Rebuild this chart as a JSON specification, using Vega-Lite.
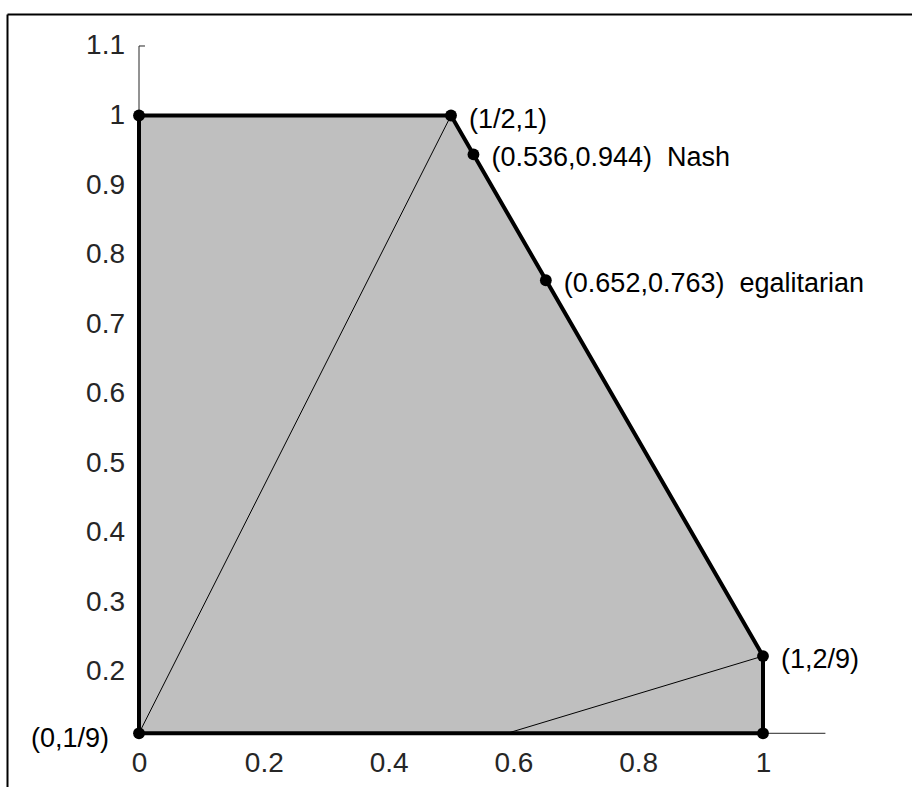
{
  "$schema": "https://vega.github.io/schema/vega-lite/v6.json",
  "width": 905,
  "height": 773,
  "autosize": {"type": "none"},
  "padding": {"left": 7, "top": 14, "right": 0, "bottom": 0},
  "background": "white",
  "config": {"view": {"stroke": null}, "font": "Liberation Sans"},
  "datasets": {
    "region": [
      {"x": 0, "y": 1, "y2": 0.11111},
      {"x": 0.5, "y": 1, "y2": 0.11111},
      {"x": 1, "y": 0.22222, "y2": 0.11111}
    ],
    "boundary": [
      {"o": 1, "x": 0, "y": 0.11111},
      {"o": 2, "x": 0, "y": 1},
      {"o": 3, "x": 0.5, "y": 1},
      {"o": 4, "x": 1, "y": 0.22222},
      {"o": 5, "x": 1, "y": 0.11111},
      {"o": 6, "x": 0, "y": 0.11111}
    ],
    "thin": [
      {"seg": "diag1", "x": 0, "y": 0.11111, "x2": 0.5, "y2": 1},
      {"seg": "diag2", "x": 0.59, "y": 0.11111, "x2": 1, "y2": 0.22222}
    ],
    "axislines": [
      {"seg": "yaxis", "x": 0, "y": 0.11111, "x2": 0, "y2": 1.1},
      {"seg": "ytick", "x": 0, "y": 1.1, "x2": 0.0096, "y2": 1.1}
    ],
    "xaxisline": [
      {"seg": "xaxis", "x": 0, "y": 0.11111, "x2": 1.1, "y2": 0.11111}
    ],
    "points": [
      {"x": 0, "y": 0.11111, "label": "(0,1/9)", "side": "left"},
      {"x": 0, "y": 1, "label": "", "side": "none"},
      {"x": 0.5, "y": 1, "label": "(1/2,1)", "side": "right"},
      {"x": 0.536, "y": 0.944, "label": "(0.536,0.944) \u00a0Nash", "side": "right"},
      {"x": 0.652, "y": 0.763, "label": "(0.652,0.763) \u00a0egalitarian", "side": "right"},
      {"x": 1, "y": 0.22222, "label": "(1,2/9)", "side": "right"},
      {"x": 1, "y": 0.11111, "label": "", "side": "none"}
    ]
  },
  "encoding": {
    "x": {
      "field": "x", "type": "quantitative",
      "scale": {"domain": [-0.21154, 1.23878], "nice": false, "zero": false},
      "axis": {
        "orient": "bottom", "offset": -53.7, "values": [0, 0.2, 0.4, 0.6, 0.8, 1],
        "format": "~g", "domain": false, "ticks": false, "tickSize": 0, "grid": false,
        "title": null, "labelPadding": 16, "labelFontSize": 28, "labelFont": "Liberation Sans",
        "labelColor": "#262626", "labelFlush": false, "labelOverlap": false
      }
    },
    "y": {
      "field": "y", "type": "quantitative",
      "scale": {"domain": [0.03384, 1.14604], "nice": false, "zero": false},
      "axis": {
        "orient": "left", "offset": 0, "values": [0.2, 0.3, 0.4, 0.5, 0.6, 0.7, 0.8, 0.9, 1, 1.1],
        "format": "~g", "domain": true, "domainColor": "black", "domainWidth": 2,
        "ticks": false, "tickSize": 0, "grid": false, "title": null,
        "labelPadding": -117.5, "labelAlign": "right", "labelFontSize": 28,
        "labelFont": "Liberation Sans", "labelColor": "#262626", "labelFlush": false, "labelOverlap": false
      }
    }
  },
  "layer": [
    {
      "data": {"name": "xaxisline"},
      "mark": {"type": "rule", "color": "#262626", "strokeWidth": 1},
      "encoding": {
        "x": {
          "field": "x", "type": "quantitative",
          "scale": {"domain": [-0.21154, 1.23878], "nice": false, "zero": false},
          "axis": {
            "orient": "top", "offset": 0, "domain": true, "domainColor": "black", "domainWidth": 2,
            "labels": false, "ticks": false, "grid": false, "title": null
          }
        },
        "x2": {"field": "x2"},
        "y2": {"field": "y2"}
      }
    },
    {
      "layer": [
        {
          "data": {"name": "region"},
          "mark": {"type": "area", "color": "#bfbfbf", "opacity": 1},
          "encoding": {"y2": {"field": "y2"}}
        },
        {
          "data": {"name": "axislines"},
          "mark": {"type": "rule", "color": "#262626", "strokeWidth": 1},
          "encoding": {"x2": {"field": "x2"}, "y2": {"field": "y2"}}
        },
        {
          "data": {"name": "thin"},
          "mark": {"type": "rule", "color": "black", "strokeWidth": 1},
          "encoding": {"x2": {"field": "x2"}, "y2": {"field": "y2"}}
        },
        {
          "data": {"name": "boundary"},
          "mark": {"type": "line", "color": "black", "strokeWidth": 4},
          "encoding": {"order": {"field": "o", "type": "quantitative"}}
        },
        {
          "data": {"name": "points"},
          "mark": {"type": "point", "filled": true, "color": "black", "size": 140, "opacity": 1},
          "encoding": {}
        },
        {
          "data": {"name": "points"},
          "transform": [{"filter": "datum.side === 'right'"}],
          "mark": {"type": "text", "align": "left", "baseline": "middle", "dx": 18, "dy": 4, "fontSize": 27, "font": "Liberation Sans", "color": "black"},
          "encoding": {"text": {"field": "label"}}
        },
        {
          "data": {"name": "points"},
          "transform": [{"filter": "datum.side === 'left'"}],
          "mark": {"type": "text", "align": "right", "baseline": "middle", "dx": -30, "dy": 6, "fontSize": 27, "font": "Liberation Sans", "color": "black"},
          "encoding": {"text": {"field": "label"}}
        }
      ]
    }
  ],
  "resolve": {"axis": {"x": "independent"}}
}
